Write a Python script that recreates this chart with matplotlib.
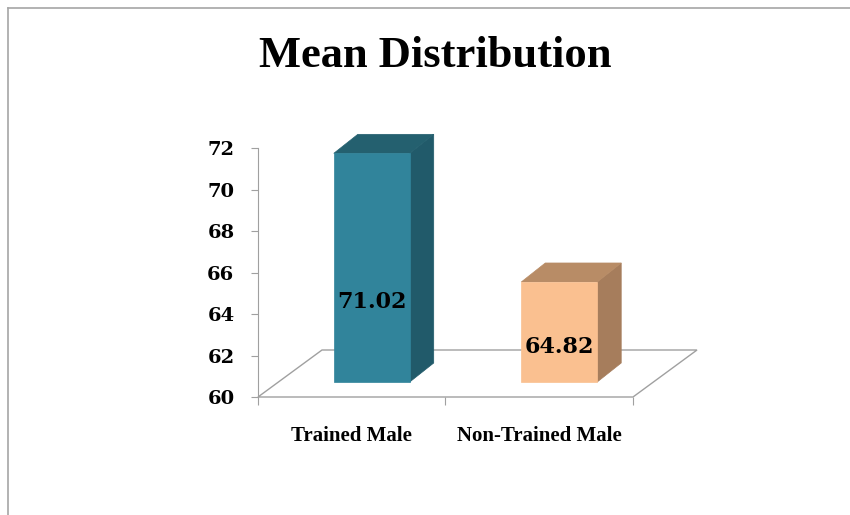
import matplotlib
matplotlib.use("Agg")
import matplotlib.pyplot as plt
from matplotlib.patches import Polygon
from matplotlib.lines import Line2D
from matplotlib.transforms import IdentityTransform

# chart data
categories = ["Trained Male", "Non-Trained Male"]
means = [71.02, 64.82]
value_labels = ["71.02", "64.82"]
y_ticks = [60, 62, 64, 66, 68, 70, 72]

front_colors = ["#31849B", "#FAC090"]
side_colors = ["#215A6A", "#A67D5C"]
top_colors = ["#24606F", "#B88C66"]

W, H = 850, 515
fig = plt.figure(figsize=(W / 100, H / 100), dpi=100)

# plot area in pixel terms (front plane of the 3d box)
ax = fig.add_axes([258 / W, 1 - 397 / H, 375 / W, 249 / H])
ax.set_xlim(0, len(categories))
ax.set_ylim(y_ticks[0], y_ticks[-1])
ax.patch.set_alpha(0)

for s in ["top", "right", "bottom"]:
    ax.spines[s].set_visible(False)
ax.spines["left"].set_color("#A0A0A0")

ax.set_yticks(y_ticks)
ax.set_yticklabels([str(t) for t in y_ticks], fontfamily="DejaVu Serif",
                   fontweight="bold", fontsize=14)
ax.tick_params(axis="y", colors="#A0A0A0", labelcolor="black", length=5, pad=12)

ax.set_xticks(range(len(categories) + 1))
ax.set_xticklabels([""] * (len(categories) + 1))
ax.tick_params(axis="x", which="major", colors="#A0A0A0", length=6)
ax.set_xticks([i + 0.5 for i in range(len(categories))], minor=True)
ax.set_xticklabels(categories, minor=True, fontfamily="Liberation Serif",
                   fontweight="bold", fontsize=15)
ax.tick_params(axis="x", which="minor", length=0, pad=21)

fig.canvas.draw()
T = ax.transData


def px(x, y):
    return T.transform((x, y))


# depth offsets in pixels (display coords)
floor_dx, floor_dy = 64, 47
front_dx, front_dy = 20, 15
depth_dx, depth_dy = 24, 19

# floor
x0, y0 = px(0, y_ticks[0])
x1, _ = px(len(categories), y_ticks[0])
floor = Polygon([(x0, y0), (x1, y0), (x1 + floor_dx, y0 + floor_dy),
                 (x0 + floor_dx, y0 + floor_dy)], closed=True,
                facecolor="none", edgecolor="#A0A0A0", lw=1,
                transform=IdentityTransform())
fig.add_artist(floor)

bar_w = 0.405
for i, v in enumerate(means):
    lx, by = px(i + 0.5 - bar_w / 2, y_ticks[0])
    rx, ty = px(i + 0.5 + bar_w / 2, v)
    lx += front_dx
    rx += front_dx
    by += front_dy
    ty += front_dy
    front = [(lx, by), (rx, by), (rx, ty), (lx, ty)]
    side = [(rx, by), (rx + depth_dx, by + depth_dy),
            (rx + depth_dx, ty + depth_dy), (rx, ty)]
    top = [(lx, ty), (rx, ty), (rx + depth_dx, ty + depth_dy),
           (lx + depth_dx, ty + depth_dy)]
    for pts, c in [(side, side_colors[i]), (top, top_colors[i]),
                   (front, front_colors[i])]:
        fig.add_artist(Polygon(pts, closed=True, facecolor=c,
                               edgecolor=c, lw=0.5,
                               transform=IdentityTransform()))
    fig.text((lx + rx) / 2 / W, (by + 0.35 * (ty - by)) / H, value_labels[i],
             ha="center", va="center", fontfamily="DejaVu Serif",
             fontweight="bold", fontsize=16)

fig.text(435 / W, 1 - 67 / H, "Mean Distribution", ha="center", va="baseline",
         fontfamily="Liberation Serif", fontweight="bold", fontsize=32)

# chart frame
fig.add_artist(Line2D([8 / W, 1], [1 - 8 / H, 1 - 8 / H], color="#A6A6A6",
                      lw=1.2, transform=fig.transFigure))
fig.add_artist(Line2D([8 / W, 8 / W], [0, 1 - 8 / H], color="#A6A6A6",
                      lw=1.2, transform=fig.transFigure))

fig.savefig("out.png", dpi=100)
